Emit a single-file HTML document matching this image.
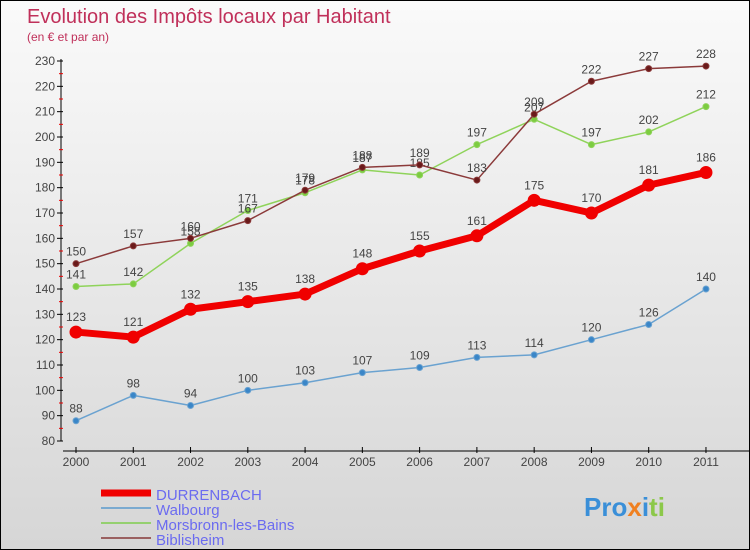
<!DOCTYPE html>
<html><head><meta charset="utf-8"><style>
body{margin:0}
#c{width:750px;height:550px;position:relative;box-sizing:border-box;border:1px solid #000;background:linear-gradient(#fafafa,#d6d6d6);font-family:"Liberation Sans",sans-serif;overflow:hidden}
</style></head><body>
<div id="c">
<svg width="750" height="550" style="position:absolute;left:0;top:0" id="s">
<text x="26" y="22" font-size="20" fill="#c0305a">Evolution des Impôts locaux par Habitant</text>
<text x="26" y="40" font-size="12" fill="#c0305a">(en € et par an)</text>
</svg>
</div>
<script>
const years=[2000,2001,2002,2003,2004,2005,2006,2007,2008,2009,2010,2011];
const yTicks=[80,90,100,110,120,130,140,150,160,170,180,190,200,210,220,230];
const durrenbach=[123,121,132,135,138,148,155,161,175,170,181,186];
const walbourg=[88,98,94,100,103,107,109,113,114,120,126,140];
const morsbronn=[141,142,158,171,178,187,185,197,207,197,202,212];
const biblisheim=[150,157,160,167,179,188,189,183,209,222,227,228];
const NS="http://www.w3.org/2000/svg";
const svg=document.getElementById('s');
const X=i=>75+i*57.27;
const Y=v=>440-(v-80)*380/150;
function el(t,a,p){const e=document.createElementNS(NS,t);for(const k in a)e.setAttribute(k,a[k]);(p||svg).appendChild(e);return e;}
let yAxis=el('line',{x1:60,y1:58,x2:60,y2:440,stroke:'#000'});


yTicks.forEach(v=>{
 el('line',{x1:56,y1:Y(v),x2:62,y2:Y(v),stroke:'#000'});
 if(v<230)el('line',{x1:58,y1:Y(v+5),x2:62,y2:Y(v+5),stroke:'#e00'});
 const t=el('text',{x:54,y:Y(v)+4,'font-size':12,fill:'#444','text-anchor':'end'});
 t.textContent=v;
 
 
});
let xAxis=el('line',{x1:62,y1:450,x2:750,y2:450,stroke:'#000'});


years.forEach((y,i)=>{
 el('line',{x1:X(i),y1:446,x2:X(i),y2:452,stroke:'#000'});
 const t=el('text',{x:X(i),y:465,'font-size':12,fill:'#444','text-anchor':'middle'});
 t.textContent=y;
 
 
});
function series(d,color,w,r,dot,name,lbl){
 const g=el('g',{});
 
 
 el('polyline',{points:d.map((v,i)=>X(i)+','+Y(v)).join(' '),fill:'none',stroke:color,'stroke-width':w,'stroke-linejoin':'round'},g);
 d.forEach((v,i)=>{
  const c=el('circle',{cx:X(i),cy:Y(v),r:r,fill:dot,stroke:color,'stroke-width':1},g);
  
  
  if(lbl){const t=el('text',{x:X(i),y:Y(v)-8-(r>4?3:0),'font-size':12,fill:'#444','text-anchor':'middle'},g);t.textContent=v;}
 });
}
series(walbourg,'#6aa2d0',1.5,3,'#3a86c8','walbourg',true);
series(morsbronn,'#8fd35a',1.5,3,'#7ccc40','morsbronn',true);
series(biblisheim,'#8b3a3a',1.5,3,'#6a1a1a','biblisheim',true);
series(durrenbach,'#f00000',7,6,'#f00000','durrenbach',true);
const leg=[['DURRENBACH','#f00000',7],['Walbourg','#7aaad0',2],['Morsbronn-les-Bains','#95d070',2],['Biblisheim','#9a6060',2]];
leg.forEach((l,i)=>{
 const y=492+i*15;
 const g=el('g',{});
 
 
 el('line',{x1:100,y1:y,x2:150,y2:y,stroke:l[1],'stroke-width':l[2]},g);
 const t=el('text',{x:155,y:y+7,'font-size':15,fill:'#6b6bf0'},g);t.textContent=l[0];
});
const lg=el('text',{x:583,y:515,'font-size':26,'font-weight':'bold',fill:'#3a8fd8'});


lg.innerHTML='<tspan fill="#3a8fd8">Pro</tspan><tspan fill="#f08020">x</tspan><tspan fill="#3a8fd8">i</tspan><tspan fill="#8cc84a">ti</tspan>';
</script>
</body></html>
